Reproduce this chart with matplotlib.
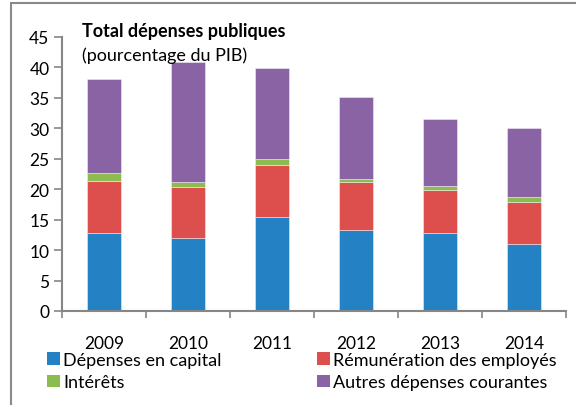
import matplotlib
matplotlib.use("Agg")
import matplotlib.pyplot as plt
from matplotlib.patches import Patch, Rectangle
import numpy as np

plt.rcParams['font.family'] = ['Lato', 'DejaVu Sans']

years = ["2009", "2010", "2011", "2012", "2013", "2014"]
capital = [12.8, 11.9, 15.4, 13.3, 12.8, 10.95]
remuneration = [8.6, 8.5, 8.6, 7.8, 7.1, 6.85]
interets = [1.2, 0.7, 1.0, 0.6, 0.6, 0.9]
autres = [15.5, 19.7, 14.9, 13.4, 11.0, 11.3]

labels = ["Dépenses en capital", "Rémunération des employés", "Intérêts", "Autres dépenses courantes"]
colors = ["#2381c4", "#dd4f4c", "#8cbb4f", "#8963a4"]

W, H = 576, 406
fig = plt.figure(figsize=(W / 100, H / 100), dpi=100)
ax = fig.add_axes([62 / W, 1 - 312 / H, (566 - 62) / W, (312 - 37.7) / H])

x = np.arange(len(years))
series = [capital, remuneration, interets, autres]
bottom = np.zeros(len(years))
for vals, c in zip(series, colors):
    ax.bar(x, vals, width=0.4, bottom=bottom, color=c, edgecolor=(1, 1, 1, 0.5), linewidth=0.6)
    bottom += np.array(vals)

ax.set_xlim(-0.5, len(years) - 0.5)
ax.set_ylim(0, 45)
ax.set_yticks(np.arange(0, 46, 5))
ax.set_xticks(x)
ax.set_xticklabels(years)
ax.set_xticks(np.arange(-0.5, len(years), 1.0), minor=True)
ax.tick_params(axis='x', which='major', length=0, pad=17, labelsize=12.5)
ax.tick_params(axis='x', which='minor', length=5, width=1.2, color='#868686', direction='out')
ax.tick_params(axis='y', length=6, width=1.2, color='#868686', direction='out', labelsize=12.5, pad=3)
for s in ['top', 'right']:
    ax.spines[s].set_visible(False)
for s in ['left', 'bottom']:
    ax.spines[s].set_color('#868686')
    ax.spines[s].set_linewidth(1.5)

fig.text(82 / W, 1 - 32 / H, "Total dépenses publiques", fontsize=13, fontweight='bold', va='center', ha='left')
fig.text(82 / W, 1 - 56 / H, "(pourcentage du PIB)", fontsize=13, va='center', ha='left')

h = [Patch(facecolor=c) for c in colors]
common = dict(loc='upper left', frameon=False, fontsize=13,
              handlelength=0.7, handleheight=0.7, handletextpad=0.2, labelspacing=0.35,
              borderaxespad=0, borderpad=0)
leg1 = fig.legend([h[0], h[2]], [labels[0], labels[2]],
                  bbox_to_anchor=(47 / W, 1 - 353 / H), **common)
leg2 = fig.legend([h[1], h[3]], [labels[1], labels[3]],
                  bbox_to_anchor=(317 / W, 1 - 353 / H), **common)

fig.patches.append(Rectangle((11 / W, -0.1), 1.2, 1.1 - 4 / H, transform=fig.transFigure,
                             fill=False, edgecolor='#8a8a8a', linewidth=1.5))

fig.savefig("out.png", dpi=100)
